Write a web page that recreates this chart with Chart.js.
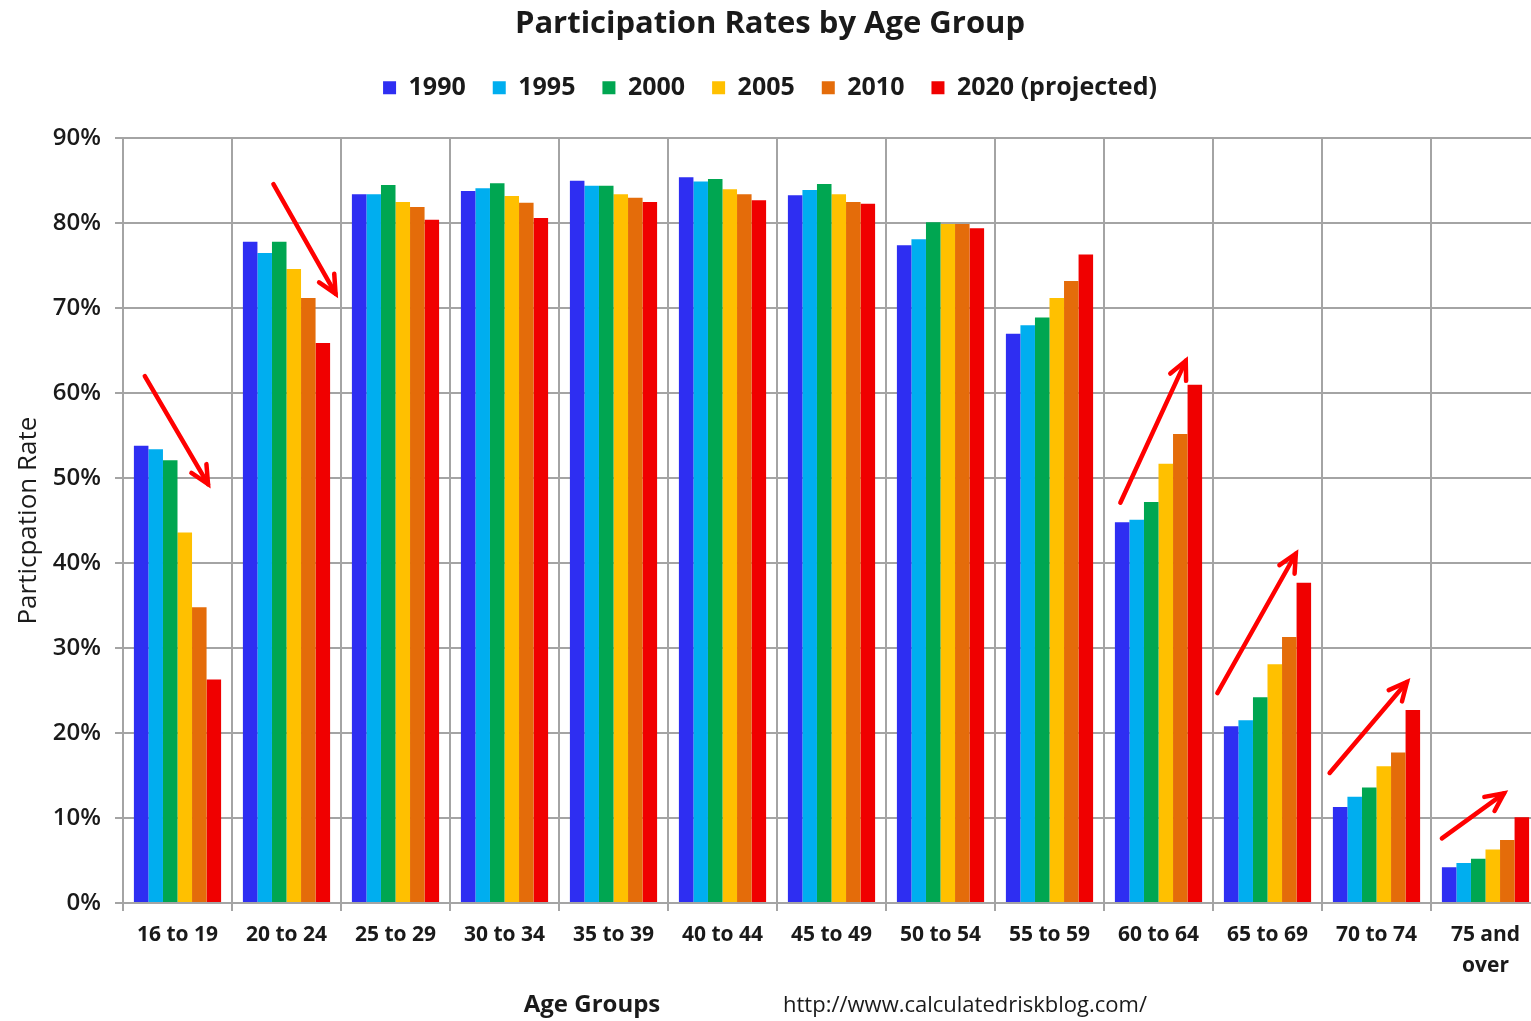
<!DOCTYPE html>
<html>
<head>
<meta charset="utf-8">
<title>Participation Rates by Age Group</title>
<script src="https://cdn.jsdelivr.net/npm/chart.js@4.4.0/dist/chart.umd.min.js"></script>
<style>
  body { margin: 0; background: #fff; overflow: hidden; }
  #wrap { width: 1540px; height: 1021px; }
</style>
</head>
<body>
<div id="wrap"><canvas id="myChart"></canvas></div>
<script>
/* Participation rates by age group */

const ageGroups = ['16 to 19', '20 to 24', '25 to 29', '30 to 34', '35 to 39', '40 to 44',
    '45 to 49', '50 to 54', '55 to 59', '60 to 64', '65 to 69', '70 to 74', ['75 and', 'over']];

const rate1990 = [53.8, 77.8, 83.4, 83.8, 85.0, 85.4, 83.3, 77.4, 67.0, 44.8, 20.8, 11.3, 4.2];
const rate1995 = [53.4, 76.5, 83.4, 84.1, 84.4, 84.9, 83.9, 78.1, 68.0, 45.1, 21.5, 12.5, 4.7];
const rate2000 = [52.1, 77.8, 84.5, 84.7, 84.4, 85.2, 84.6, 80.1, 68.9, 47.2, 24.2, 13.6, 5.2];
const rate2005 = [43.6, 74.6, 82.5, 83.2, 83.4, 84.0, 83.4, 79.9, 71.2, 51.7, 28.1, 16.1, 6.3];
const rate2010 = [34.8, 71.2, 81.9, 82.4, 83.0, 83.4, 82.5, 79.9, 73.2, 55.2, 31.3, 17.7, 7.4];
const rate2020 = [26.3, 65.9, 80.4, 80.6, 82.5, 82.7, 82.3, 79.4, 76.3, 61.0, 37.7, 22.7, 10.1];

const seriesNames = ['1990', '1995', '2000', '2005', '2010', '2020 (projected)'];
const seriesColors = ['#2e2ef2', '#00aeef', '#00a651', '#ffc000', '#e46c0a', '#f00000'];

// red arrows: [category index, start offset, start %, end offset, end %]
const arrows = [
    [0, -0.30, 62.0, 0.28, 49.3],
    [1, -0.12, 84.6, 0.45, 71.7],
    [9, -0.35, 47.1, 0.25, 63.8],
    [10, -0.46, 24.7, 0.26, 41.1],
    [11, -0.43, 15.3, 0.28, 26.0],
    [12, -0.40, 7.6, 0.17, 12.9]
];

const gridGrey = '#a4a4a4';

const arrowPlugin = {
    id: 'arrows',
    afterDatasetsDraw(chart) {
        const ctx = chart.ctx;
        const xs = chart.scales.x;
        const ys = chart.scales.y;
        const cw = xs.getPixelForValue(1) - xs.getPixelForValue(0);
        ctx.save();
        ctx.strokeStyle = '#ff0000';
        ctx.lineWidth = 4.5;
        ctx.lineCap = 'round';
        arrows.forEach((a) => {
            const base = xs.getPixelForValue(a[0]);
            const x1 = base + a[1] * cw, y1 = ys.getPixelForValue(a[2]);
            const x2 = base + a[3] * cw, y2 = ys.getPixelForValue(a[4]);
            const ang = Math.atan2(y2 - y1, x2 - x1);
            ctx.beginPath();
            ctx.moveTo(x1, y1);
            ctx.lineTo(x2, y2);
            ctx.stroke();
            ctx.beginPath();
            ctx.moveTo(x2 - 20 * Math.cos(ang - 0.45), y2 - 20 * Math.sin(ang - 0.45));
            ctx.lineTo(x2, y2);
            ctx.lineTo(x2 - 20 * Math.cos(ang + 0.45), y2 - 20 * Math.sin(ang + 0.45));
            ctx.stroke();
        });
        ctx.restore();
    }
};

const footerPlugin = {
    id: 'footer',
    afterDraw(chart) {
        const ctx = chart.ctx;
        ctx.save();
        ctx.fillStyle = '#1a1a1a';
        ctx.textBaseline = 'middle';
        ctx.textAlign = 'center';
        ctx.font = 'bold 24px "Open Sans", sans-serif';
        ctx.fillText('Age Groups', 592, 1005);
        ctx.textAlign = 'left';
        ctx.font = '22px "Open Sans", sans-serif';
        ctx.fillText('http://www.calculatedriskblog.com/', 783, 1006);
        ctx.restore();
    }
};

// push the plot area down a bit below the legend
const legendGap = {
    id: 'legendGap',
    beforeInit(chart) {
        const fitLegend = chart.legend.fit;
        chart.legend.fit = function fit() {
            fitLegend.bind(chart.legend)();
            this.height += 28;
        };
    }
};

function mainEvent() {
    const target = document.querySelector('#myChart');
    const rates = [rate1990, rate1995, rate2000, rate2005, rate2010, rate2020];

    const datasets = rates.map((data, idx) => {
        return {
            label: seriesNames[idx],
            data: data,
            backgroundColor: seriesColors[idx],
            borderWidth: 0,
            categoryPercentage: 0.8,
            barPercentage: 1.0
        };
    });

    const chart = new Chart(target, {
        type: 'bar',
        data: { labels: ageGroups, datasets: datasets },
        options: {
            responsive: true,
            maintainAspectRatio: false,
            animation: false,
            layout: { padding: { top: 4, left: 0, right: 0, bottom: 0 } },
            plugins: {
                title: {
                    display: true,
                    text: 'Participation Rates by Age Group',
                    color: '#1a1a1a',
                    font: { family: '"Open Sans", sans-serif', size: 31, weight: 'bold' },
                    padding: { top: 2, bottom: 5 }
                },
                legend: {
                    display: true,
                    labels: {
                        color: '#1a1a1a',
                        font: { family: '"Open Sans", sans-serif', size: 25, weight: 'bold' },
                        boxWidth: 13,
                        boxHeight: 13,
                        padding: 27
                    }
                },
                tooltip: { enabled: false }
            },
            scales: {
                x: {
                    afterFit: (scale) => { scale.height = 118; },
                    grid: { color: gridGrey, lineWidth: 2, tickLength: 8, offset: true },
                    border: { color: gridGrey, width: 2 },
                    ticks: {
                        color: '#1a1a1a',
                        font: { family: '"Open Sans", sans-serif', size: 21, weight: 'bold', lineHeight: 1.5 },
                        padding: 8,
                        maxRotation: 0,
                        autoSkip: false
                    }
                },
                y: {
                    min: 0,
                    max: 90,
                    afterFit: (scale) => { scale.width = 123; },
                    grid: { color: gridGrey, lineWidth: 2, tickLength: 8 },
                    border: { color: gridGrey, width: 2 },
                    title: {
                        display: true,
                        text: 'Particpation Rate',
                        color: '#1a1a1a',
                        font: { family: '"Open Sans", sans-serif', size: 26 },
                        padding: { top: 13, bottom: 4 }
                    },
                    ticks: {
                        stepSize: 10,
                        color: '#1a1a1a',
                        font: { family: '"Open Sans", sans-serif', size: 24, weight: '600' },
                        padding: 14,
                        callback: (value) => value + '%'
                    }
                }
            }
        },
        plugins: [legendGap, arrowPlugin, footerPlugin]
    });
    console.log('chart area', chart.chartArea);
}

document.addEventListener('DOMContentLoaded', () => mainEvent());
</script>
</body>
</html>
